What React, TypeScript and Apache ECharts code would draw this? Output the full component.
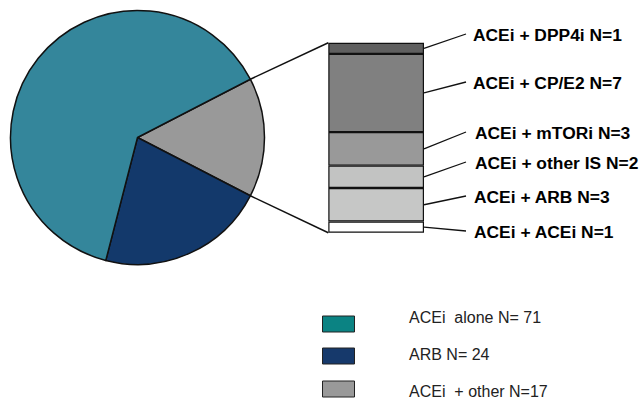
import React, { useEffect, useRef } from "react";
import * as echarts from "echarts";

// Pie data (clockwise from the zoomed slice)
const pieNames = ["ACEi  + other N=17", "ARB N= 24", "ACEi  alone N= 71"];
const pieValues = [17, 24, 71];
const pieColors = ["#999999", "#13396b", "#34869b"];

// Breakdown of "ACEi + other" (bottom to top)
const barNames = [
  "ACEi + ACEi N=1",
  "ACEi + ARB N=3",
  "ACEi + other IS N=2",
  "ACEi + mTORi N=3",
  "ACEi + CP/E2 N=7",
  "ACEi + DPP4i N=1",
];
const barValues = [1, 3, 2, 3, 7, 1];
const barColors = ["#ffffff", "#c6c7c6", "#c2c3c2", "#999999", "#808080", "#5f5f5f"];

// Legend
const legendNames = ["ACEi  alone N= 71", "ARB N= 24", "ACEi  + other N=17"];
const legendColors = ["#0b8383", "#16396b", "#999999"];

// Layout
const PIE_CX = 137.5;
const PIE_CY = 137.5;
const PIE_R = 127;
const GRID = { left: 328.3, top: 42.7, width: 95.7, height: 190 };
const labelTextY = [232, 197, 163, 133, 83, 35];
const labelTextX = [474, 474, 475, 475, 473, 473];
const legendBoxY = [316, 348, 381];
const legendTextY = [317, 354, 391];

export default function App() {
  const ref = useRef<HTMLDivElement>(null);
  useEffect(() => {
    if (!ref.current) return;
    const chart = echarts.init(ref.current, null, { renderer: "svg" });
    const total = pieValues.reduce((a, b) => a + b, 0);
    const half = ((pieValues[0] / total) * 360) / 2;

    chart.setOption({
      animation: false,
      grid: { left: GRID.left, top: GRID.top, width: GRID.width, height: GRID.height },
      xAxis: { type: "category", data: ["x"], show: false },
      yAxis: { type: "value", min: 0, max: 17, show: false },
      series: [
        {
          type: "pie",
          center: [PIE_CX, PIE_CY],
          radius: PIE_R,
          startAngle: half,
          clockwise: true,
          silent: true,
          label: { show: false },
          labelLine: { show: false },
          itemStyle: { borderColor: "#111", borderWidth: 1.5 },
          data: pieNames.map((n, i) => ({
            name: n,
            value: pieValues[i],
            itemStyle: { color: pieColors[i] },
          })),
        },
        ...barNames.map((n, i) => ({
          type: "bar",
          name: n,
          stack: "other",
          barWidth: "100%",
          silent: true,
          itemStyle: { color: barColors[i], borderColor: "#111", borderWidth: 1.2 },
          data: [barValues[i]],
        })),
      ],
    });

    const graphic: any[] = [];
    // connecting lines from pie slice to bar
    const a = (half * Math.PI) / 180;
    const pTop = [PIE_CX + PIE_R * Math.cos(a), PIE_CY - PIE_R * Math.sin(a)];
    const pBot = [PIE_CX + PIE_R * Math.cos(a), PIE_CY + PIE_R * Math.sin(a)];
    const sumBar = barValues.reduce((s, v) => s + v, 0);
    const barTop = chart.convertToPixel({ gridIndex: 0 }, ["x", sumBar]) as number[];
    const barBot = chart.convertToPixel({ gridIndex: 0 }, ["x", 0]) as number[];
    graphic.push({
      type: "line",
      shape: { x1: pTop[0], y1: pTop[1], x2: GRID.left, y2: barTop[1] },
      style: { stroke: "#111", lineWidth: 1.5 },
    });
    graphic.push({
      type: "line",
      shape: { x1: pBot[0], y1: pBot[1], x2: GRID.left, y2: barBot[1] },
      style: { stroke: "#111", lineWidth: 1.5 },
    });

    // bar labels with leader lines
    let cum = 0;
    const right = GRID.left + GRID.width;
    barNames.forEach((n, i) => {
      const mid = cum + barValues[i] / 2;
      cum += barValues[i];
      const p = chart.convertToPixel({ gridIndex: 0 }, ["x", mid]) as number[];
      graphic.push({
        type: "line",
        shape: { x1: right, y1: p[1], x2: 466, y2: labelTextY[i] - 1 },
        style: { stroke: "#111", lineWidth: 1.3 },
      });
      graphic.push({
        type: "text",
        x: labelTextX[i],
        y: labelTextY[i],
        style: {
          text: n,
          fill: "#000",
          font: "bold 17.4px 'Liberation Sans', Arial, sans-serif",
          verticalAlign: "middle",
          align: "left",
        },
      });
    });

    // legend
    legendNames.forEach((n, i) => {
      graphic.push({
        type: "rect",
        shape: { x: 322.5, y: legendBoxY[i], width: 32, height: 16 },
        style: { fill: legendColors[i], stroke: "#222", lineWidth: 1 },
      });
      graphic.push({
        type: "text",
        x: 409,
        y: legendTextY[i],
        style: {
          text: n,
          fill: "#222",
          font: "16px 'Liberation Sans', Arial, sans-serif",
          verticalAlign: "middle",
          align: "left",
        },
      });
    });

    chart.setOption({ graphic });
    return () => chart.dispose();
  }, []);

  return (
    <div
      ref={ref}
      style={{ position: "fixed", left: 0, top: 0, width: 641, height: 404, background: "#fff" }}
    />
  );
}
